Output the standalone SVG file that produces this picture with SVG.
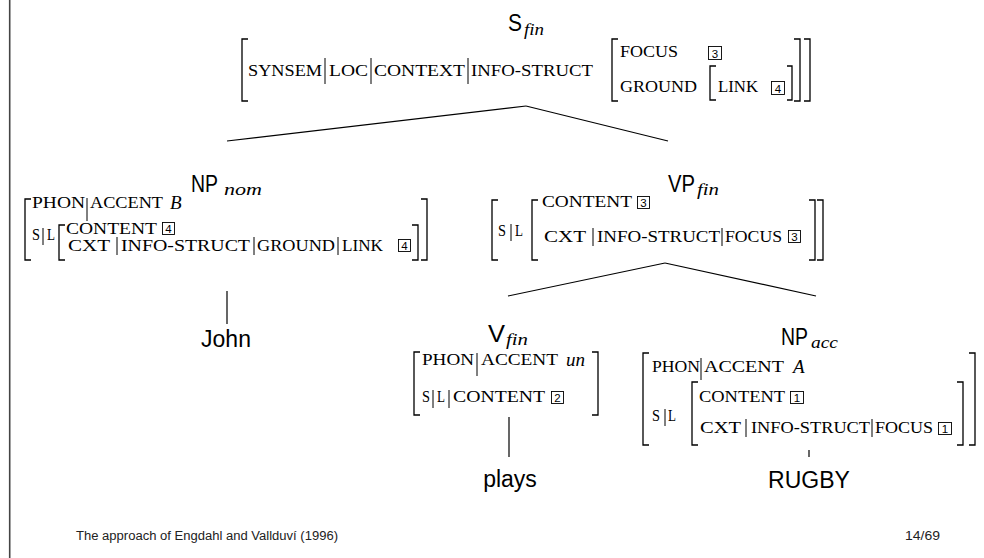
<svg xmlns="http://www.w3.org/2000/svg" width="984" height="558" viewBox="0 0 984 558">
<style>
.sc{font-family:"Liberation Serif",serif;font-size:16px;fill:#000}
.lab{font-family:"Liberation Sans",sans-serif;font-size:23px;fill:#000}
.sub{font-family:"Liberation Serif",serif;font-style:italic;font-size:16px;fill:#000}
.it{font-family:"Liberation Serif",serif;font-style:italic;font-size:19px;fill:#000}
.br{fill:none;stroke:#000;stroke-width:1.3}
.bar{stroke:#000;stroke-width:1}
.box{fill:none;stroke:#000;stroke-width:0.9}
.num{font-family:"Liberation Sans",sans-serif;font-size:11.5px;text-anchor:middle;fill:#000}
.edge{stroke:#000;stroke-width:1.2;fill:none}
.foot{font-family:"Liberation Sans",sans-serif;font-size:12px;fill:#222}
</style>
<rect width="984" height="558" fill="#fff"/>
<line x1="9.7" y1="0" x2="9.7" y2="558" stroke="#444" stroke-width="1.6"/>

<g id="connectors">
<line class="edge" x1="526" y1="106" x2="227" y2="141"/>
<line class="edge" x1="526" y1="106" x2="668" y2="141"/>
<line class="edge" x1="227" y1="291" x2="227" y2="324"/>
<line class="edge" x1="665" y1="263" x2="508" y2="296"/>
<line class="edge" x1="665" y1="263" x2="816" y2="296"/>
<line class="edge" x1="509" y1="417" x2="509" y2="457"/>
<line class="edge" x1="809" y1="450" x2="809" y2="457"/>
</g>

<g id="s-fin">
<text class="lab" x="508" y="31" textLength="14" lengthAdjust="spacingAndGlyphs">S</text><text class="sub" x="524" y="35" textLength="20" lengthAdjust="spacingAndGlyphs">fin</text>
<path class="br" d="M248 39H242V101H248"/>
<path class="br" d="M804 39H810V101H804"/>
<text class="sc" x="248" y="76" textLength="74" lengthAdjust="spacingAndGlyphs">SYNSEM</text>
<line class="bar" x1="325" y1="58" x2="325" y2="84"/>
<text class="sc" x="329" y="76" textLength="39" lengthAdjust="spacingAndGlyphs">LOC</text>
<line class="bar" x1="371" y1="58" x2="371" y2="84"/>
<text class="sc" x="374" y="76" textLength="91" lengthAdjust="spacingAndGlyphs">CONTEXT</text>
<line class="bar" x1="468" y1="58" x2="468" y2="84"/>
<text class="sc" x="471" y="76" textLength="122" lengthAdjust="spacingAndGlyphs">INFO-STRUCT</text>
<path class="br" d="M618 39H612V101H618"/>
<path class="br" d="M794 39H800V101H794"/>
<text class="sc" x="620" y="57" textLength="58" lengthAdjust="spacingAndGlyphs">FOCUS</text>
<rect class="box" x="708.5" y="46.5" width="13" height="13"/><text class="num" x="715" y="57.5">3</text>
<text class="sc" x="620" y="92" textLength="77" lengthAdjust="spacingAndGlyphs">GROUND</text>
<path class="br" d="M716 66H710V100H716"/>
<path class="br" d="M787 66H792V100H787"/>
<text class="sc" x="718" y="92" textLength="40" lengthAdjust="spacingAndGlyphs">LINK</text>
<rect class="box" x="771.5" y="81.5" width="13" height="13"/><text class="num" x="778" y="92.5">4</text>
</g>

<g id="np-nom">
<text class="lab" x="191" y="192" textLength="27" lengthAdjust="spacingAndGlyphs">NP</text><text class="sub" x="224" y="195" textLength="38" lengthAdjust="spacingAndGlyphs">nom</text>
<path class="br" d="M31 199H25V260H31"/>
<path class="br" d="M421 199H427V260H421"/>
<text class="sc" x="32" y="208" textLength="53" lengthAdjust="spacingAndGlyphs">PHON</text>
<line class="bar" x1="87" y1="198" x2="87" y2="221"/>
<text class="sc" x="90" y="208" textLength="73" lengthAdjust="spacingAndGlyphs">ACCENT</text>
<text class="it" x="170" y="209">B</text>
<text class="sc" x="32" y="240" textLength="8" lengthAdjust="spacingAndGlyphs">S</text>
<line class="bar" x1="43" y1="228" x2="43" y2="245"/>
<text class="sc" x="47" y="240" textLength="8" lengthAdjust="spacingAndGlyphs">L</text>
<path class="br" d="M65 225H59V260H65"/>
<path class="br" d="M412 225H418V260H412"/>
<text class="sc" x="66" y="234" textLength="91" lengthAdjust="spacingAndGlyphs">CONTENT</text>
<rect class="box" x="162.5" y="222.5" width="12" height="12"/><text class="num" x="168.5" y="233">4</text>
<text class="sc" x="68" y="251" textLength="42" lengthAdjust="spacingAndGlyphs">CXT</text>
<line class="bar" x1="117" y1="237" x2="117" y2="255"/>
<text class="sc" x="121" y="251" textLength="129" lengthAdjust="spacingAndGlyphs">INFO-STRUCT</text>
<line class="bar" x1="254" y1="237" x2="254" y2="255"/>
<text class="sc" x="257" y="251" textLength="78" lengthAdjust="spacingAndGlyphs">GROUND</text>
<line class="bar" x1="338" y1="237" x2="338" y2="255"/>
<text class="sc" x="342" y="251" textLength="41" lengthAdjust="spacingAndGlyphs">LINK</text>
<rect class="box" x="398.5" y="239.5" width="12" height="12"/><text class="num" x="404.5" y="250">4</text>
</g>

<g id="john">
<text class="lab" x="226" y="347" text-anchor="middle">John</text>
</g>

<g id="vp-fin">
<text class="lab" x="668" y="192" textLength="27" lengthAdjust="spacingAndGlyphs">VP</text><text class="sub" x="697" y="195" textLength="22" lengthAdjust="spacingAndGlyphs">fin</text>
<path class="br" d="M498 200H492V260H498"/>
<path class="br" d="M817 200H823V260H817"/>
<text class="sc" x="498" y="236" textLength="8" lengthAdjust="spacingAndGlyphs">S</text>
<line class="bar" x1="511" y1="224" x2="511" y2="241"/>
<text class="sc" x="515" y="236" textLength="8" lengthAdjust="spacingAndGlyphs">L</text>
<path class="br" d="M538 200H532V260H538"/>
<path class="br" d="M809 200H815V260H809"/>
<text class="sc" x="542" y="207" textLength="90" lengthAdjust="spacingAndGlyphs">CONTENT</text>
<rect class="box" x="637.5" y="196.5" width="12" height="12"/><text class="num" x="643.5" y="207">3</text>
<text class="sc" x="544" y="242" textLength="42" lengthAdjust="spacingAndGlyphs">CXT</text>
<line class="bar" x1="593" y1="228" x2="593" y2="246"/>
<text class="sc" x="597" y="242" textLength="123" lengthAdjust="spacingAndGlyphs">INFO-STRUCT</text>
<line class="bar" x1="722" y1="228" x2="722" y2="246"/>
<text class="sc" x="725" y="242" textLength="57" lengthAdjust="spacingAndGlyphs">FOCUS</text>
<rect class="box" x="788.5" y="230.5" width="12" height="12"/><text class="num" x="794.5" y="241">3</text>
</g>

<g id="v-fin">
<text class="lab" x="488" y="342" textLength="17" lengthAdjust="spacingAndGlyphs">V</text><text class="sub" x="506" y="345" textLength="22" lengthAdjust="spacingAndGlyphs">fin</text>
<path class="br" d="M420 352H414V415H420"/>
<path class="br" d="M592 352H598V415H592"/>
<text class="sc" x="422" y="365" textLength="52" lengthAdjust="spacingAndGlyphs">PHON</text>
<line class="bar" x1="477" y1="353" x2="477" y2="376"/>
<text class="sc" x="481" y="365" textLength="77" lengthAdjust="spacingAndGlyphs">ACCENT</text>
<text class="it" x="566" y="366">un</text>
<text class="sc" x="422" y="402" textLength="8" lengthAdjust="spacingAndGlyphs">S</text>
<line class="bar" x1="433" y1="390" x2="433" y2="408"/>
<text class="sc" x="437" y="402" textLength="8" lengthAdjust="spacingAndGlyphs">L</text>
<line class="bar" x1="449" y1="390" x2="449" y2="408"/>
<text class="sc" x="453" y="402" textLength="92" lengthAdjust="spacingAndGlyphs">CONTENT</text>
<rect class="box" x="551.5" y="391.5" width="12" height="12"/><text class="num" x="557.5" y="402">2</text>
</g>

<g id="plays">
<text class="lab" x="510" y="487" text-anchor="middle">plays</text>
</g>

<g id="np-acc">
<text class="lab" x="781" y="345" textLength="27" lengthAdjust="spacingAndGlyphs">NP</text><text class="sub" x="811" y="348" textLength="27" lengthAdjust="spacingAndGlyphs">acc</text>
<path class="br" d="M649 353H643V445H649"/>
<path class="br" d="M969 353H975V445H969"/>
<text class="sc" x="652" y="372" textLength="48" lengthAdjust="spacingAndGlyphs">PHON</text>
<line class="bar" x1="701" y1="358" x2="701" y2="380"/>
<text class="sc" x="704" y="372" textLength="80" lengthAdjust="spacingAndGlyphs">ACCENT</text>
<text class="it" x="793" y="373">A</text>
<text class="sc" x="652" y="421" textLength="8" lengthAdjust="spacingAndGlyphs">S</text>
<line class="bar" x1="665" y1="409" x2="665" y2="426"/>
<text class="sc" x="668" y="421" textLength="8" lengthAdjust="spacingAndGlyphs">L</text>
<path class="br" d="M698 382H692V445H698"/>
<path class="br" d="M957 382H963V445H957"/>
<text class="sc" x="699" y="402" textLength="86" lengthAdjust="spacingAndGlyphs">CONTENT</text>
<rect class="box" x="790.5" y="391.5" width="13" height="12"/><text class="num" x="797" y="402">1</text>
<text class="sc" x="700" y="433" textLength="41" lengthAdjust="spacingAndGlyphs">CXT</text>
<line class="bar" x1="746" y1="419" x2="746" y2="437"/>
<text class="sc" x="751" y="433" textLength="119" lengthAdjust="spacingAndGlyphs">INFO-STRUCT</text>
<line class="bar" x1="872" y1="419" x2="872" y2="437"/>
<text class="sc" x="875" y="433" textLength="58" lengthAdjust="spacingAndGlyphs">FOCUS</text>
<rect class="box" x="938.5" y="422.5" width="13" height="12"/><text class="num" x="945" y="433">1</text>
</g>

<g id="rugby">
<text class="lab" x="809" y="488" text-anchor="middle">RUGBY</text>
</g>

<g id="footer">
<text class="foot" x="76" y="540" textLength="262" lengthAdjust="spacingAndGlyphs">The approach of Engdahl and Vallduví (1996)</text>
<text class="foot" x="905" y="540" textLength="35" lengthAdjust="spacingAndGlyphs">14/69</text>
</g>
</svg>
